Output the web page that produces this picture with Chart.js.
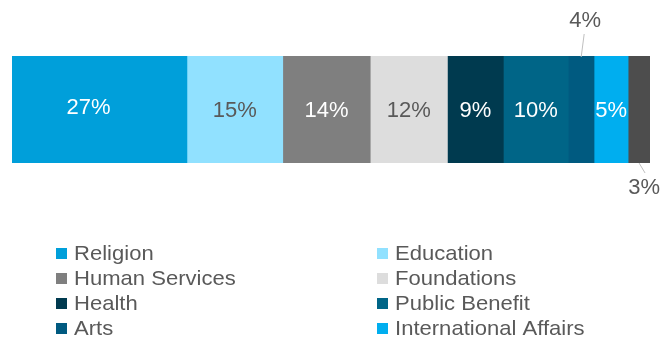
<!DOCTYPE html>
<html lang="en">
<head>
    <meta charset="UTF-8">
    <title>Giving by recipient</title>
    <script src="https://cdn.jsdelivr.net/npm/chart.js"></script>
    <style>
        body {
            margin: 0;
            background-color: #fff;
        }
        #chartBox {
            width: 672px;
            height: 339px;
        }
    </style>
</head>
<body>
    <div id="chartBox">
        <canvas id="myChart" width="672" height="339"></canvas>
    </div>

    <script>
        // Data (shares, labels show them rounded)
        const categories = ['Religion', 'Education', 'Human Services', 'Foundations', 'Health',
                            'Public Benefit', 'Arts', 'International Affairs', 'Other'];
        const shares = [27.2, 14.9, 13.6, 12.0, 8.7, 10.1, 4.0, 5.3, 3.4];
        const inLegend = [true, true, true, true, true, true, true, true, false];

        const colors = ['#009FDA', '#91E1FF', '#7F7F7F', '#DDDDDD', '#003A4F',
                        '#006587', '#005A80', '#00AEEF', '#4D4D4D'];
        const labelColors = ['#fff', '#595959', '#fff', '#595959', '#fff',
                             '#fff', '#595959', '#fff', '#595959'];
        const total = shares.reduce((a, b) => a + b, 0);

        // Percent labels, small segments get a label outside with a leader line
        const labelPlugin = {
            id: 'segmentLabels',
            afterDatasetsDraw(chart) {
                const ctx = chart.ctx;
                ctx.save();
                ctx.font = '22px "Liberation Sans", Arial, sans-serif';
                ctx.textAlign = 'center';
                ctx.textBaseline = 'middle';
                chart.data.datasets.forEach((ds, i) => {
                    const bar = chart.getDatasetMeta(i).data[0];
                    const cx = (bar.x + bar.base) / 2;
                    const top = bar.y - bar.height / 2;
                    const bottom = bar.y + bar.height / 2;
                    const text = Math.round(ds.data[0]) + '%';
                    ctx.fillStyle = labelColors[i];
                    if (i === 6) {
                        ctx.strokeStyle = '#BFBFBF';
                        ctx.lineWidth = 1;
                        ctx.beginPath();
                        ctx.moveTo(cx, top + 1);
                        ctx.lineTo(cx + 3, top - 22);
                        ctx.stroke();
                        ctx.fillText(text, cx + 4, top - 35);
                    } else if (i === 8) {
                        ctx.strokeStyle = '#BFBFBF';
                        ctx.lineWidth = 1;
                        ctx.beginPath();
                        ctx.moveTo(cx, bottom);
                        ctx.lineTo(cx + 6, bottom + 10);
                        ctx.stroke();
                        ctx.fillText(text, cx + 5, bottom + 25);
                    } else if (i === 0) {
                        // the big segment's label sits a bit left and up
                        ctx.fillText(text, cx - 11, bar.y - 2);
                    } else {
                        ctx.fillText(text, cx, bar.y + 1);
                    }
                });
                ctx.restore();
            }
        };

        // Two-column legend under the bar
        const legendPlugin = {
            id: 'columnLegend',
            afterDraw(chart) {
                const ctx = chart.ctx;
                const colX = [56, 377];
                const rowY = [254, 279, 304, 329];
                ctx.save();
                ctx.font = '21px "Liberation Sans", Arial, sans-serif';
                ctx.textBaseline = 'middle';
                ctx.textAlign = 'left';
                let n = 0;
                categories.forEach((name, i) => {
                    if (!inLegend[i]) return;
                    const x = colX[n % 2];
                    const y = rowY[Math.floor(n / 2)];
                    ctx.fillStyle = colors[i];
                    ctx.fillRect(x, y - 6, 11, 11);
                    ctx.fillStyle = '#595959';
                    // legend text in the original is drawn a little wide
                    ctx.save();
                    ctx.translate(x + 18, y);
                    ctx.scale(1.05, 1);
                    ctx.fillText(name, 0, 0);
                    ctx.restore();
                    n++;
                });
                ctx.restore();
            }
        };

        const ctx = document.getElementById('myChart').getContext('2d');
        new Chart(ctx, {
            type: 'bar',
            data: {
                labels: [''],
                datasets: categories.map((name, i) => ({
                    label: name,
                    data: [shares[i]],
                    backgroundColor: colors[i],
                    borderWidth: 0,
                    barPercentage: 1,
                    categoryPercentage: 1
                }))
            },
            options: {
                indexAxis: 'y',
                responsive: false,
                animation: false,
                layout: {
                    padding: { left: 12, right: 22, top: 56, bottom: 176 }
                },
                scales: {
                    x: { stacked: true, min: 0, max: total, display: false },
                    y: { stacked: true, display: false }
                },
                plugins: {
                    legend: { display: false },
                    tooltip: { enabled: false }
                }
            },
            plugins: [labelPlugin, legendPlugin]
        });
    </script>
</body>
</html>
